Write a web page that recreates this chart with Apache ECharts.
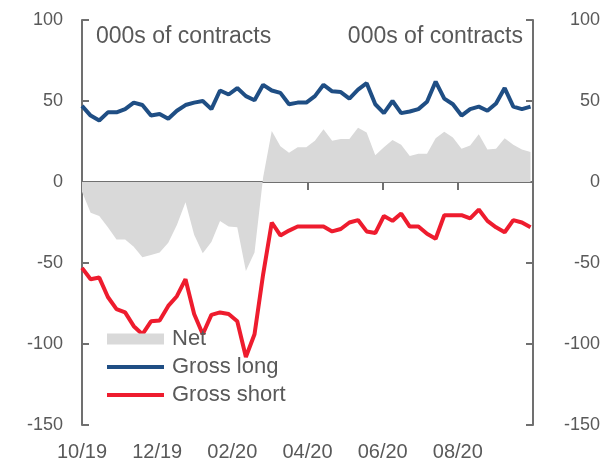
<!DOCTYPE html>
<html>
<head>
<meta charset="utf-8">
<script src="https://cdn.jsdelivr.net/npm/echarts@6/dist/echarts.min.js"></script>
<style>
html,body{margin:0;padding:0;background:#fff;}
#chart{width:615px;height:468px;}
</style>
</head>
<body>
<div id="chart"></div>
<script>
// weekly data, first week 1 Oct 2019, one point every 7 days
var tickLabels = ['10/19', '12/19', '02/20', '04/20', '06/20', '08/20'];
var grossLong = [47, 41, 38, 43, 43, 45, 49, 47.5, 41, 42, 39, 44, 47.5, 49, 50, 45, 56.5, 54, 58, 53,
    50.5, 60, 56.5, 55, 48, 49, 49, 53, 60, 56, 55.5, 51.5, 57, 61, 48, 42.5, 50, 42.5, 43.5, 45,
    49.5, 62, 51.5, 48, 41, 45, 46.5, 44, 48.5, 58, 46.5, 45, 46.5];
var grossShort = [-53, -60, -59, -71, -78.5, -80.5, -89, -94, -86, -85.5, -76.5, -70.5, -60, -81.5, -94, -82, -80.5, -81.5, -86, -108,
    -94, -57, -25, -33, -30, -27.5, -27.5, -27.5, -27.5, -30.5, -29, -25, -23.5, -30.5, -31.5, -21, -24, -19.5, -27.5, -27.5,
    -32, -35, -20.5, -20.5, -20.5, -22.5, -17, -24, -28, -31, -23.5, -25, -28];
var net = [-6, -19, -21, -28, -35.5, -35.5, -40, -46.5, -45, -43.5, -37.5, -26.5, -12.5, -32.5, -44, -37, -24, -27.5, -28, -55,
    -43.5, 3, 31.5, 22, 18, 21.5, 21.5, 25.5, 32.5, 25.5, 26.5, 26.5, 33.5, 30.5, 16.5, 21.5, 26, 23, 16, 17.5,
    17.5, 27, 31, 27.5, 20.5, 22.5, 29.5, 20, 20.5, 27, 23, 20, 18.5];

function toDays (arr) {
    return arr.map(function (v, i) { return [i * 7, v]; });
}

var chart = echarts.init(document.getElementById('chart'));

var textColor = '#595959';
var axisColor = '#707070';
var fontFam = '"Liberation Sans", Arial, sans-serif';

function yAxis (side, align, margin) {
    return {
        type: 'value',
        position: side,
        min: -150,
        max: 100,
        interval: 50,
        axisLine: { show: true, onZero: false, lineStyle: { color: axisColor, width: 2 } },
        axisTick: { show: true, inside: true, length: 7, lineStyle: { color: axisColor, width: 2 } },
        splitLine: { show: false },
        axisLabel: { color: textColor, fontSize: 18, fontFamily: fontFam, margin: margin, align: align }
    };
}

option = {
    animation: false,
    backgroundColor: '#fff',
    grid: { left: 82, right: 82, top: 20, bottom: 43, outerBoundsMode: 'none' },
    title: [
        { text: '000s of contracts', left: 96, top: 25, padding: 0,
          textStyle: { color: textColor, fontSize: 23, fontWeight: 'normal', fontFamily: fontFam } },
        { text: '000s of contracts', right: 92, top: 25, padding: 0,
          textStyle: { color: textColor, fontSize: 23, fontWeight: 'normal', fontFamily: fontFam } }
    ],
    legend: {
        orient: 'vertical',
        left: 105,
        top: 328,
        padding: 0,
        itemWidth: 57,
        itemHeight: 11,
        itemGap: 6,
        textStyle: { color: textColor, fontSize: 22, fontFamily: fontFam, padding: [0, 0, 0, 3] },
        data: [
            { name: 'Net', icon: 'rect' },
            { name: 'Gross long', itemStyle: { opacity: 0 }, lineStyle: { width: 4 } },
            { name: 'Gross short', itemStyle: { opacity: 0 }, lineStyle: { width: 4 } }
        ]
    },
    xAxis: [
        {
            type: 'value',
            min: 0,
            max: 366,
            interval: 61,
            axisLine: { show: true, onZero: true, lineStyle: { color: axisColor, width: 2 } },
            axisTick: { show: true, length: 8, lineStyle: { color: axisColor, width: 2 } },
            axisLabel: { show: false },
            splitLine: { show: false }
        },
        {
            type: 'value',
            min: 0,
            max: 366,
            interval: 61,
            position: 'bottom',
            axisLine: { show: false, onZero: false },
            axisTick: { show: false },
            splitLine: { show: false },
            axisLabel: {
                color: textColor, fontSize: 20, fontFamily: fontFam, margin: 17,
                formatter: function (v) { return tickLabels[Math.round(v / 61)] || ''; }
            }
        }
    ],
    yAxis: [
        yAxis('left', 'right', 19),
        yAxis('right', 'right', 67)
    ],
    series: [
        {
            name: 'Net',
            type: 'line',
            data: toDays(net),
            symbol: 'none',
            color: '#d9d9d9',
            lineStyle: { width: 0 },
            areaStyle: { color: '#d9d9d9', opacity: 1 },
            z: 1
        },
        {
            name: 'Gross long',
            type: 'line',
            data: toDays(grossLong),
            symbol: 'none',
            color: '#1f4e84',
            lineStyle: { width: 4, color: '#1f4e84' },
            z: 3
        },
        {
            name: 'Gross short',
            type: 'line',
            data: toDays(grossShort),
            symbol: 'none',
            color: '#ee1c2e',
            lineStyle: { width: 4, color: '#ee1c2e' },
            z: 3
        }
    ]
};
chart.setOption(option);
</script>
</body>
</html>
